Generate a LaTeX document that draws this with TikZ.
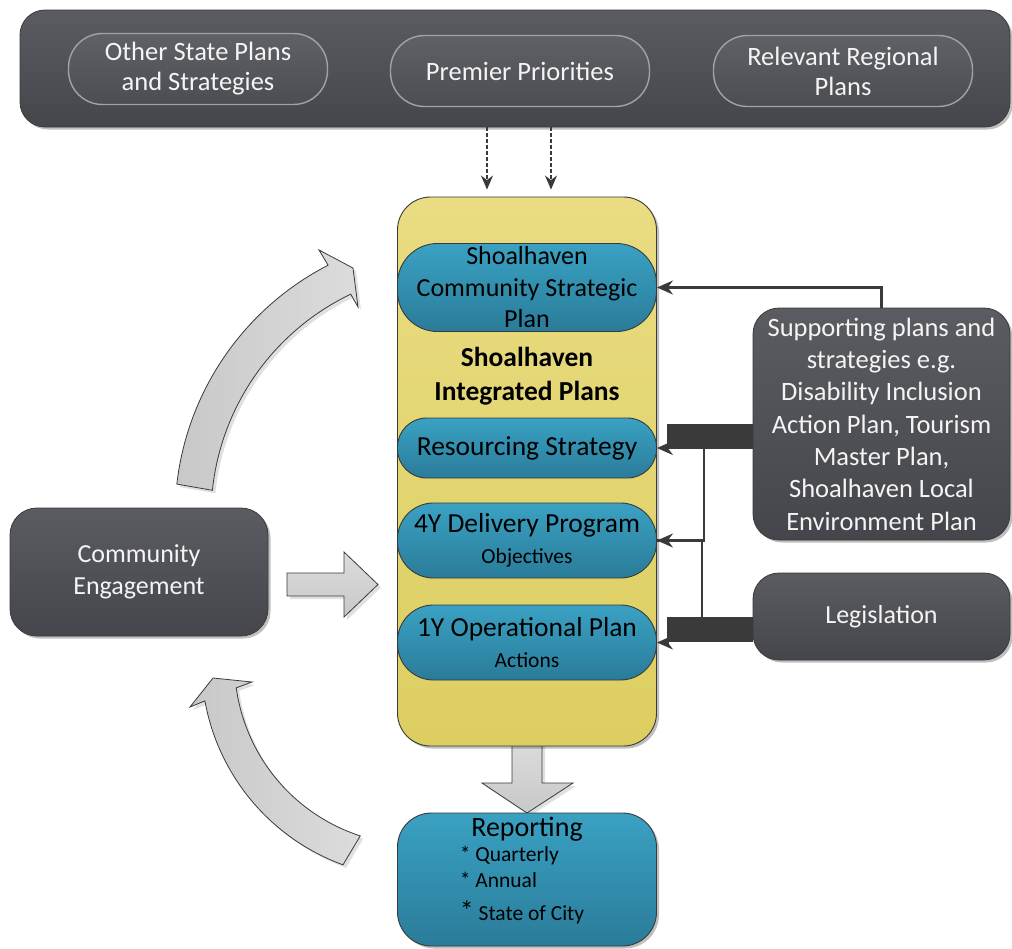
\documentclass[tikz,border=0pt]{standalone}
\usepackage{fontspec}
\setmainfont{Carlito}
\usetikzlibrary{shadows,arrows.meta}
\definecolor{darkA}{HTML}{5B5C61}
\definecolor{darkB}{HTML}{45464B}
\definecolor{pillA}{HTML}{606166}
\definecolor{pillB}{HTML}{4C4D52}
\definecolor{pillEdge}{HTML}{A3A3A3}
\definecolor{blueA}{HTML}{3AA1C3}
\definecolor{blueB}{HTML}{2A7C99}
\definecolor{yelA}{HTML}{E9DC82}
\definecolor{yelB}{HTML}{DCCE60}
\definecolor{lineC}{HTML}{3A3A3A}
\definecolor{arrA}{HTML}{DCDCDC}
\definecolor{arrB}{HTML}{C8C8C8}
\definecolor{txtW}{HTML}{F4F4F4}
\newcommand\fbig{\fontsize{26}{31.5}\selectfont}
\newcommand\fbigger{\fontsize{27.5}{31.5}\selectfont}
\newcommand\ftop{\fontsize{26.5}{30}\selectfont}
\newcommand\fsup{\fontsize{26.5}{32.3}\selectfont}
\newcommand\fsmall{\fontsize{21.5}{26.5}\selectfont}
\tikzset{
  shadowed/.style={drop shadow={shadow xshift=2.5pt,shadow yshift=-2.5pt,opacity=0.25,fill=black}},
  darkbox/.style={rectangle, draw=lineC, line width=0.8pt, top color=darkA, bottom color=darkB,
    text=txtW, align=center, inner sep=0pt, shadowed},
  toppill/.style={rectangle, draw=pillEdge, line width=1.4pt, top color=pillA, bottom color=pillB,
    text=txtW, align=center, inner sep=0pt, font=\ftop, minimum width=259pt, minimum height=71pt,
    rounded corners=34pt},
  yellowbox/.style={rectangle, draw=lineC, line width=0.9pt, top color=yelA, bottom color=yelB,
    inner sep=0pt, shadowed},
  bluebox/.style={rectangle, draw=lineC, line width=0.9pt, top color=blueA, bottom color=blueB,
    text=black, align=center, inner sep=0pt, font=\fbig},
  blockarrow/.style={draw=lineC, line width=0.8pt, top color=arrA, bottom color=arrB, line join=miter},
  arrshadow/.style={fill=black, opacity=0.12},
  conn/.style={draw=lineC, line width=2.1pt, -{Stealth[length=16pt,width=14pt]}},
  connline/.style={draw=lineC, line width=2.1pt},
  thickbar/.style={draw=lineC, line width=25pt},
  dasharrow/.style={draw=lineC, line width=1.3pt, dash pattern=on 3.5pt off 2.5pt, -{Stealth[length=14pt,width=12pt]}},
}
\begin{document}
\begin{tikzpicture}[x=1pt,y=-1pt]
\useasboundingbox (0,0) rectangle (1012,948);

% ---- top bar ----
\node[darkbox, minimum width=990pt, minimum height=117pt, rounded corners=25pt] (top) at (515,68.5) {};
\node[toppill] (osp) at (198,69) {Other State Plans\\and Strategies};
\node[toppill] (pp) at (520,71) {Premier Priorities};
\node[toppill] (rrp) at (843,71) {Relevant Regional\\Plans};

% ---- block arrows (under boxes) ----
% down arrow to reporting
\path[arrshadow] (515,740) -- (515,786) -- (485,786) -- (530,816) -- (576,786) -- (545,786) -- (545,740) -- cycle;
\path[blockarrow] (512,740) -- (512,783) -- (482,783) -- (527,813) -- (573,783) -- (542,783) -- (542,740) -- cycle;
% right arrow from community engagement
\path[arrshadow] (290,576) -- (347,576) -- (347,555) -- (381,587.5) -- (347,620) -- (347,599) -- (290,599) -- cycle;
\path[blockarrow] (287,573) -- (344,573) -- (344,552) -- (378,584.5) -- (344,617) -- (344,596) -- (287,596) -- cycle;
% upper curved arrow
\path[arrshadow, shift={(3,3)}] plot[domain=186.5:242.8, samples=40] ({457+282*cos(\x)},{516+282*sin(\x)})
   -- (319,250) -- (353,268) -- (358,307)
   -- plot[domain=244.4:186, samples=40] ({457+246*cos(\x)},{516+246*sin(\x)}) -- cycle;
\path[blockarrow, left color=arrB, right color=arrA] plot[domain=186.5:242.8, samples=40] ({457+282*cos(\x)},{516+282*sin(\x)})
   -- (319,250) -- (353,268) -- (358,307)
   -- plot[domain=244.4:186, samples=40] ({457+246*cos(\x)},{516+246*sin(\x)}) -- cycle;
% lower curved arrow
\path[arrshadow, shift={(3,3)}] plot[domain=110:169.8, samples=40] ({416.5+215*cos(\x)},{662.8+215*sin(\x)})
   -- (190,707) -- (213,678) -- (252,682)
   -- plot[domain=172.1:108, samples=40] ({416.5+182*cos(\x)},{662.8+182*sin(\x)}) -- cycle;
\path[blockarrow, left color=arrB, right color=arrA] plot[domain=110:169.8, samples=40] ({416.5+215*cos(\x)},{662.8+215*sin(\x)})
   -- (190,707) -- (213,678) -- (252,682)
   -- plot[domain=172.1:108, samples=40] ({416.5+182*cos(\x)},{662.8+182*sin(\x)}) -- cycle;

% ---- central column ----
\node[yellowbox, minimum width=259pt, minimum height=549pt, rounded corners=33pt] (yel) at (527,471.5) {};
\node[bluebox, minimum width=259pt, minimum height=88pt, rounded corners=40pt] (csp) at (527,287.5)
  {Shoalhaven\\Community Strategic\\Plan};
\node[font=\fontsize{27.5}{34}\selectfont\bfseries, align=center, text=black] (sip) at (527,376)
  {Shoalhaven\\Integrated Plans};
\node[bluebox, font=\fbigger, minimum width=259pt, minimum height=60pt, rounded corners=29pt] (res) at (527,448)
  {Resourcing Strategy};
\node[bluebox, font=\fbigger, minimum width=259pt, minimum height=75pt, rounded corners=36pt] (dp) at (527,540.5)
  {4Y Delivery Program\\[0pt]{\fsmall Objectives}};
\node[bluebox, font=\fbigger, minimum width=259pt, minimum height=75pt, rounded corners=36pt] (op) at (527,642.5)
  {1Y Operational Plan\\[0pt]{\fsmall Actions}};

% reporting
\node[bluebox, font=\fontsize{28}{31.5}\selectfont, minimum width=259pt, minimum height=133pt, rounded corners=34pt, shadowed] (rep) at (527,879.5)
  {Reporting\\[0pt]
   \hspace*{-10pt}{\fsmall\begin{tabular}{@{}l@{}}{*} Quarterly\\{*} Annual\\[5pt]{\fontsize{28}{28}\selectfont*} State of City\end{tabular}}\\[12pt]};

% ---- side boxes ----
\node[darkbox, minimum width=258pt, minimum height=128pt, rounded corners=27pt, font=\fbig] (ce) at (139,572)
  {\rule{0pt}{6pt}Community\\Engagement};
\node[darkbox, minimum width=257pt, minimum height=232pt, rounded corners=26pt, font=\fsup] (sup) at (881.5,424)
  {Supporting plans and\\strategies e.g.\\Disability Inclusion\\Action Plan, Tourism\\Master Plan,\\Shoalhaven Local\\Environment Plan};
\node[darkbox, minimum width=257pt, minimum height=87pt, rounded corners=26pt, font=\fbig] (leg) at (881.5,616.5)
  {Legislation};

% ---- dashed arrows ----
\coordinate (d1) at ([xshift=-33pt]pp.south);
\coordinate (d2) at ([xshift=31pt]pp.south);
\draw[dasharrow] (d1 |- top.south) -- ([yshift=7pt]d1 |- yel.north);
\draw[dasharrow] (d2 |- top.south) -- ([yshift=7pt]d2 |- yel.north);

% ---- connectors on the right ----
\draw[conn] (sup.north) |- (csp.east);
\coordinate (j1) at (704,448);
\coordinate (j2) at (702,617);
\draw[thickbar] ([yshift=12pt]res.east -| sup.west) -- ([yshift=12pt,xshift=10pt]res.east);
\draw[connline] (j1) |- (dp.east);
\draw[conn] (j1) -- (res.east);
\draw[conn] ([xshift=48pt]dp.east) -- (dp.east);
\draw[connline] (j2) -- (j2 |- dp.east);
\draw[thickbar] ([yshift=13pt]op.east -| leg.west) -- ([yshift=13pt,xshift=10pt]op.east);
\draw[conn] ([xshift=12pt]op.east) -- (op.east);
\end{tikzpicture}
\end{document}
